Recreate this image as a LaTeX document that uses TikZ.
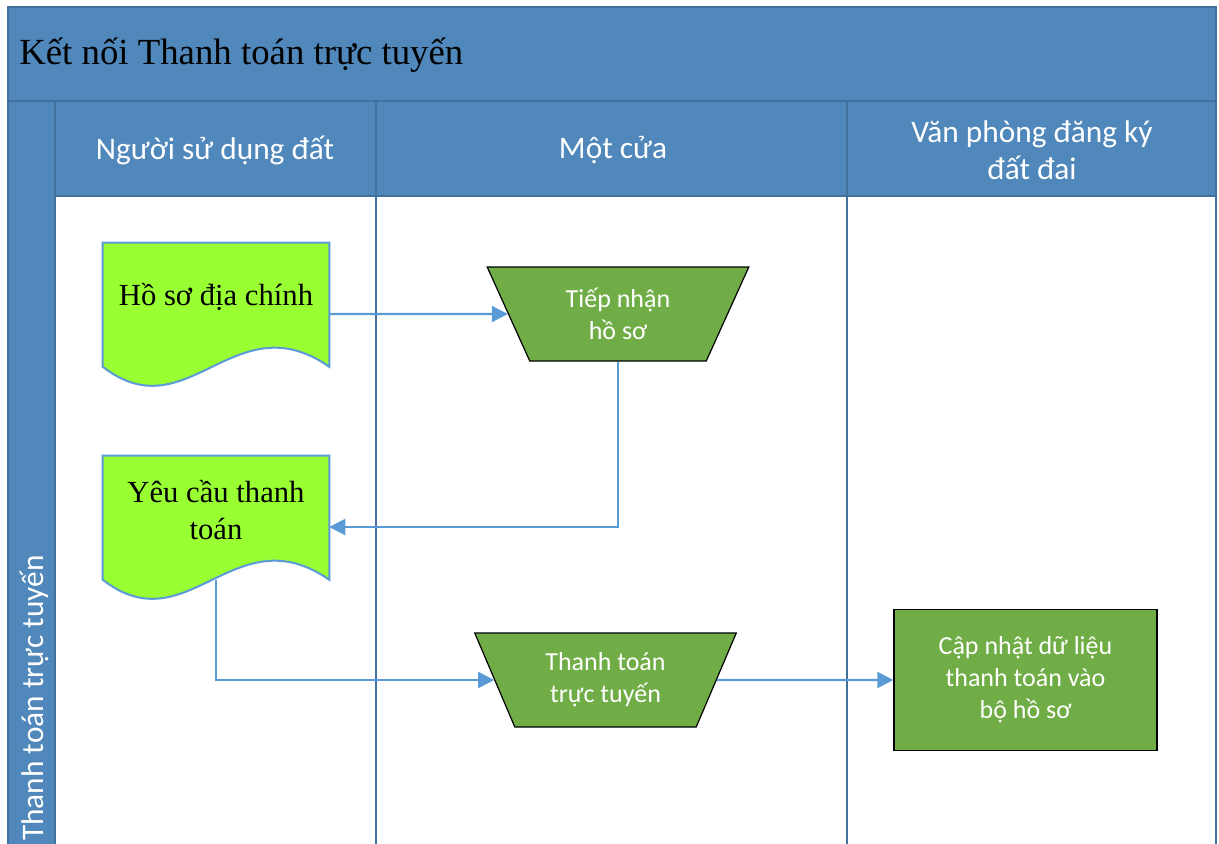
\documentclass[tikz,border=0pt]{standalone}
\usepackage{fontspec}
\setmainfont{Liberation Serif}
\newfontfamily\calfont{Carlito}
\usetikzlibrary{shapes.geometric,arrows.meta,calc}
\definecolor{lanefill}{RGB}{80,136,188}
\definecolor{laneline}{RGB}{65,113,156}
\definecolor{docfill}{RGB}{153,255,51}
\definecolor{docline}{RGB}{91,155,213}
\definecolor{procfill}{RGB}{112,173,71}
\definecolor{arrowc}{RGB}{91,155,213}
\tikzset{
  laneln/.style={draw=laneline, line width=1.8pt},
  titletext/.style={font=\fontsize{27.6}{32}\selectfont, text=black, inner sep=0pt},
  headtext/.style={font=\calfont\fontsize{23.5}{28}\selectfont, text=white, align=center, inner sep=0pt},
  docbox/.style={minimum width=169.5pt, minimum height=106.5pt, inner sep=0pt},
  docstyle/.style={fill=docfill, draw=docline, line width=1.5pt},
  doctext/.style={font=\fontsize{23}{28}\selectfont, align=center, inner sep=0pt},
  proc/.style={trapezium, shape border rotate=180, trapezium left angle=64,
    trapezium right angle=64, trapezium stretches=true,
    minimum width=196.5pt, minimum height=70.5pt, inner sep=0pt,
    fill=procfill, draw=black, line width=0.9pt, text=white,
    font=\calfont\fontsize{19.5}{24}\selectfont, align=center},
  procbox/.style={rectangle, minimum width=197.25pt, minimum height=105.75pt, inner sep=0pt,
    fill=procfill, draw=black, line width=0.9pt, text=white,
    font=\calfont\fontsize{19.5}{24}\selectfont, align=center},
  conn/.style={draw=arrowc, line width=1.6pt, -{Triangle[length=12pt,width=12pt]}}
}
\newcommand\docshape[1]{%
  \filldraw[docstyle] (#1.north west) -- (#1.north east) -- ($(#1.north east)+(0,124)$)
    .. controls ($(#1.north east)+(-95,58)$) and ($(#1.north west)+(85,190)$) ..
    ($(#1.north west)+(0,124)$) -- cycle;
  \coordinate (#1-b) at ($(#1.north)+(0,124)$);%
}
\begin{document}
\begin{tikzpicture}[x=0.75pt,y=-0.75pt]
\useasboundingbox (0,0) rectangle (1219,843);
\fill[white] (0,0) rectangle (1219,843);
% pool and lanes
\fill[lanefill] (8,7) rectangle (1216,196);
\fill[lanefill] (8,196) rectangle (55,850);
\draw[laneln] (8,7) rectangle (1216,101);
\draw[laneln] (8,101) -- (8,850);
\draw[laneln] (55,101) -- (55,850);
\draw[laneln] (376,101) -- (376,850);
\draw[laneln] (847,101) -- (847,850);
\draw[laneln] (1216,101) -- (1216,850);
\draw[laneln] (55,196) -- (1216,196);
% titles
\node[titletext, anchor=west] (title) at (19,55) {Kết nối Thanh toán trực tuyến};
\node[headtext] (h1) at (215,150) {Người sử dụng đất};
\node[headtext] (h2) at (613,150) {Một cửa};
\node[headtext] (h3) at (1032,150) {Văn phòng đăng ký\\đất đai};
\node[headtext, rotate=90, anchor=west] (lanelbl) at (34,841) {Thanh toán trực tuyến};
% documents
\node[docbox] (d1) at (216,314) {};
\docshape{d1}
\node[doctext] (d1t) at (216,297) {Hồ sơ địa chính};
\node[docbox] (d2) at (216,527) {};
\docshape{d2}
\node[doctext] (d2t) at (216,510) {Yêu cầu thanh\\toán};
% processes
\node[proc] (t1) at (618,314) {Tiếp nhận\\hồ sơ};
\node[proc] (t2) at (605.5,680) {Thanh toán\\trực tuyến};
\node[procbox] (r1) at (1025.5,680) {Cập nhật dữ liệu\\thanh toán vào\\bộ hồ sơ};
% connectors
\draw[conn] (d1.east) -- (t1);
\draw[conn] (t1.south) |- (d2.east);
\draw[conn] (d2-b) |- (t2);
\draw[conn] (t2) -- (r1);
\end{tikzpicture}
\end{document}
